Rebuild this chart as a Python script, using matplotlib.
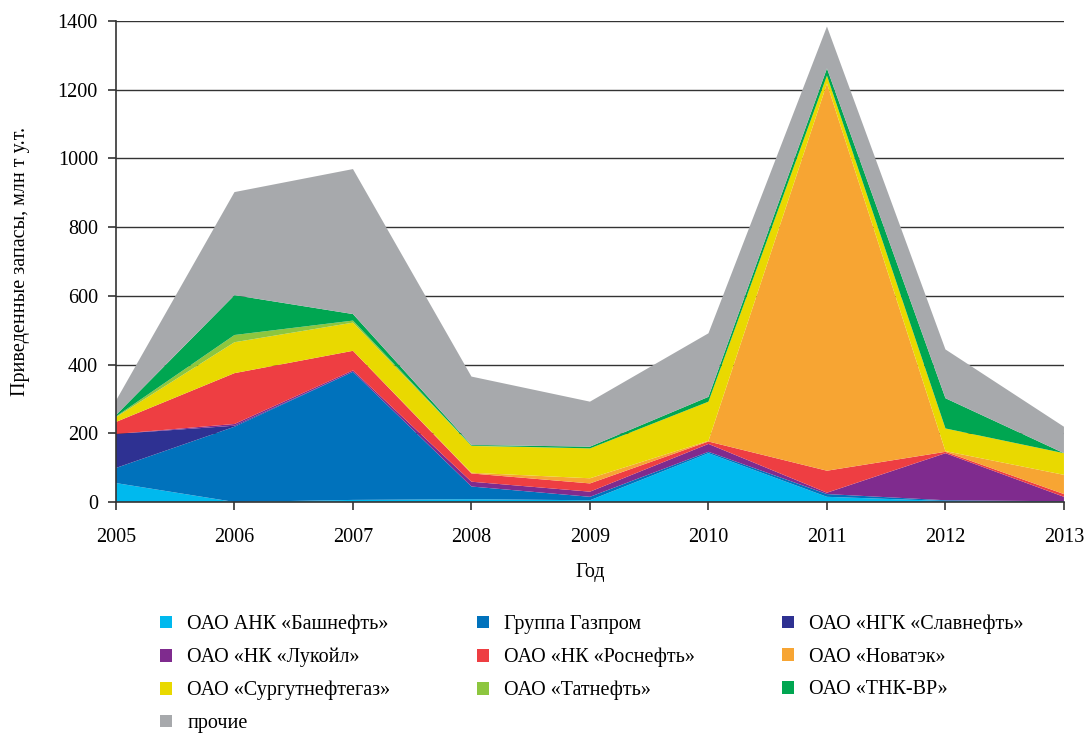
import matplotlib.pyplot as plt
from matplotlib.patches import Patch

plt.rcParams['font.family'] = ['Liberation Serif', 'DejaVu Serif']

# Годы и запасы по компаниям (млн т у.т.)
years = [2005, 2006, 2007, 2008, 2009, 2010, 2011, 2012, 2013]

bashneft = [55, 0, 6, 8, 5, 142, 15, 3, 0]
gazprom = [44, 219, 373, 37, 10, 4, 8, 2, 2]
slavneft = [99, 3, 0, 0, 0, 0, 0, 0, 0]
lukoil = [0, 5, 4, 14, 15, 23, 4, 137, 13]
rosneft = [35, 148, 57, 24, 24, 7, 64, 4, 8]
novatek = [0, 0, 0, 2, 15, 2, 1127, 2, 56]
surgut = [14, 90, 82, 78, 87, 114, 23, 66, 63]
tatneft = [2, 21, 6, 1, 0, 0, 0, 0, 0]
tnk = [4, 116, 19, 2, 5, 14, 21, 88, 0]
others = [42, 300, 422, 199, 131, 185, 122, 142, 77]

labels = ["ОАО АНК «Башнефть»", "Группа Газпром", "ОАО «НГК «Славнефть»",
          "ОАО «НК «Лукойл»", "ОАО «НК «Роснефть»", "ОАО «Новатэк»",
          "ОАО «Сургутнефтегаз»", "ОАО «Татнефть»", "ОАО «ТНК-ВР»", "прочие"]
colors = ["#00B9EE", "#0072BC", "#2E3192", "#7F2B8E", "#EE3E42",
          "#F7A533", "#E9D900", "#8DC63F", "#00A651", "#A7A9AC"]

series = [bashneft, gazprom, slavneft, lukoil, rosneft, novatek,
          surgut, tatneft, tnk, others]

fig = plt.figure(figsize=(10.86, 7.37), dpi=100)
ax = fig.add_axes([0.1068, 0.3189, 0.8729, 0.6526])

ax.stackplot(years, *series, colors=colors, linewidth=0, zorder=2)

ax.set_xlim(2005, 2013)
ax.set_ylim(0, 1400)
ax.set_yticks(range(0, 1401, 200))
ax.set_xticks(years)
ax.yaxis.grid(True, color="#333333", linewidth=1.0, zorder=1)
ax.set_axisbelow(True)
for s in ["top", "right"]:
    ax.spines[s].set_visible(False)
for s in ["left", "bottom"]:
    ax.spines[s].set_color("#333333")
    ax.spines[s].set_linewidth(1.2)
    ax.spines[s].set_zorder(3)
ax.tick_params(axis="both", labelsize=14.5, color="#333333", length=6, width=1.2)
ax.tick_params(axis="x", pad=13)
ax.tick_params(axis="y", pad=7)

ax.set_xlabel("Год", fontsize=14.5, labelpad=11)
ax.set_ylabel("Приведенные запасы, млн т у.т.", fontsize=14.5, labelpad=20)

# порядок для заполнения легенды по строкам
order = [0, 3, 6, 9, 1, 4, 7, 2, 5, 8]
handles = [Patch(facecolor=colors[i], edgecolor="none") for i in order]
fig.legend(handles, [labels[i] for i in order], ncol=3, frameon=False,
           loc="upper left", bbox_to_anchor=(0.14, 0.177), fontsize=14.5,
           handlelength=0.6, handleheight=0.6, handletextpad=0.75,
           columnspacing=4.3, labelspacing=0.68, borderaxespad=0)

fig.savefig("out.png", dpi=100)
